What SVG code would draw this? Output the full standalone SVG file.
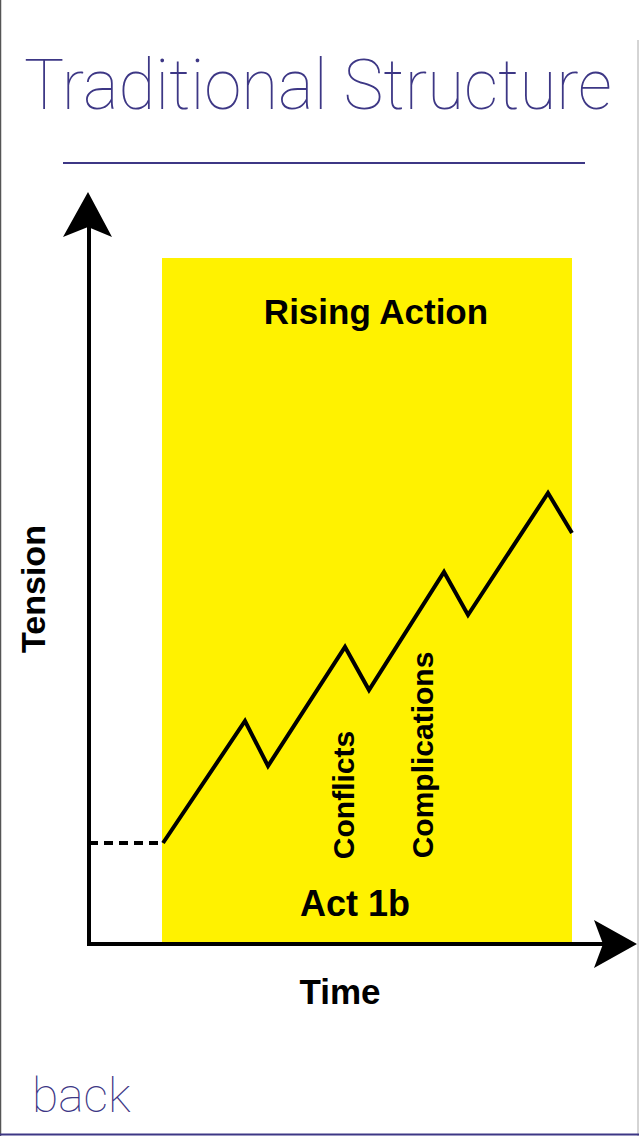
<svg xmlns="http://www.w3.org/2000/svg" width="639" height="1136" viewBox="0 0 639 1136">
<style>
.thin{font-family:Roboto,"Liberation Sans",sans-serif;font-weight:100;fill:#3d3785}
.lbl{font-family:"Liberation Sans",Arial,sans-serif;font-weight:bold;fill:#000}
.ax{stroke:#000;stroke-width:4;fill:none}
</style>
<rect width="639" height="1136" fill="#fff"/>
<g id="frame" fill="none">
<line x1="0.5" y1="0" x2="0.5" y2="1136" stroke="#555" stroke-width="1.5"/>
<line x1="638" y1="40" x2="638" y2="1136" stroke="#aaa" stroke-width="1"/>
<line x1="0" y1="1134.5" x2="639" y2="1134.5" stroke="#3d3785" stroke-width="2"/>
</g>
<g id="title">
<text class="thin" x="24" y="109" font-size="70" textLength="588" lengthAdjust="spacingAndGlyphs">Traditional Structure</text>
<line x1="63" y1="163" x2="585" y2="163" stroke="#3d3785" stroke-width="2"/>
</g>
<g id="region">
<rect x="162" y="258" width="410" height="685" fill="#fff200"/>
<text class="lbl" x="376" y="324" font-size="35" text-anchor="middle">Rising Action</text>
<text class="lbl" x="355" y="916" font-size="36" text-anchor="middle">Act 1b</text>
</g>
<g id="connectors">
<line class="ax" x1="89" y1="944" x2="89" y2="220"/>
<polygon points="88,192 112,237 88,227 63,237" fill="#000"/>
<line class="ax" x1="87" y1="944" x2="605" y2="944"/>
<polygon points="637,944 594,968 603,944 594,920" fill="#000"/>
<line x1="89" y1="843" x2="163" y2="843" stroke="#000" stroke-width="4" stroke-dasharray="9,6"/>
<polyline class="ax" stroke-width="4.5" stroke-linejoin="miter" points="163,843 245,721 268,766 345,647 369,690 444,572 468,615 548,493 572,533"/>
</g>
<g id="axis-labels">
<text class="lbl" font-size="34" text-anchor="middle" transform="translate(45,589) rotate(-90)">Tension</text>
<text class="lbl" x="340" y="1004" font-size="35" text-anchor="middle">Time</text>
</g>
<g id="events">
<text class="lbl" font-size="30" text-anchor="middle" transform="translate(354,795) rotate(-90)">Conflicts</text>
<text class="lbl" font-size="30" text-anchor="middle" transform="translate(433,755) rotate(-90)">Complications</text>
</g>
<g id="back">
<text class="thin" x="32" y="1112" font-size="48" font-weight="300">back</text>
</g>
</svg>
